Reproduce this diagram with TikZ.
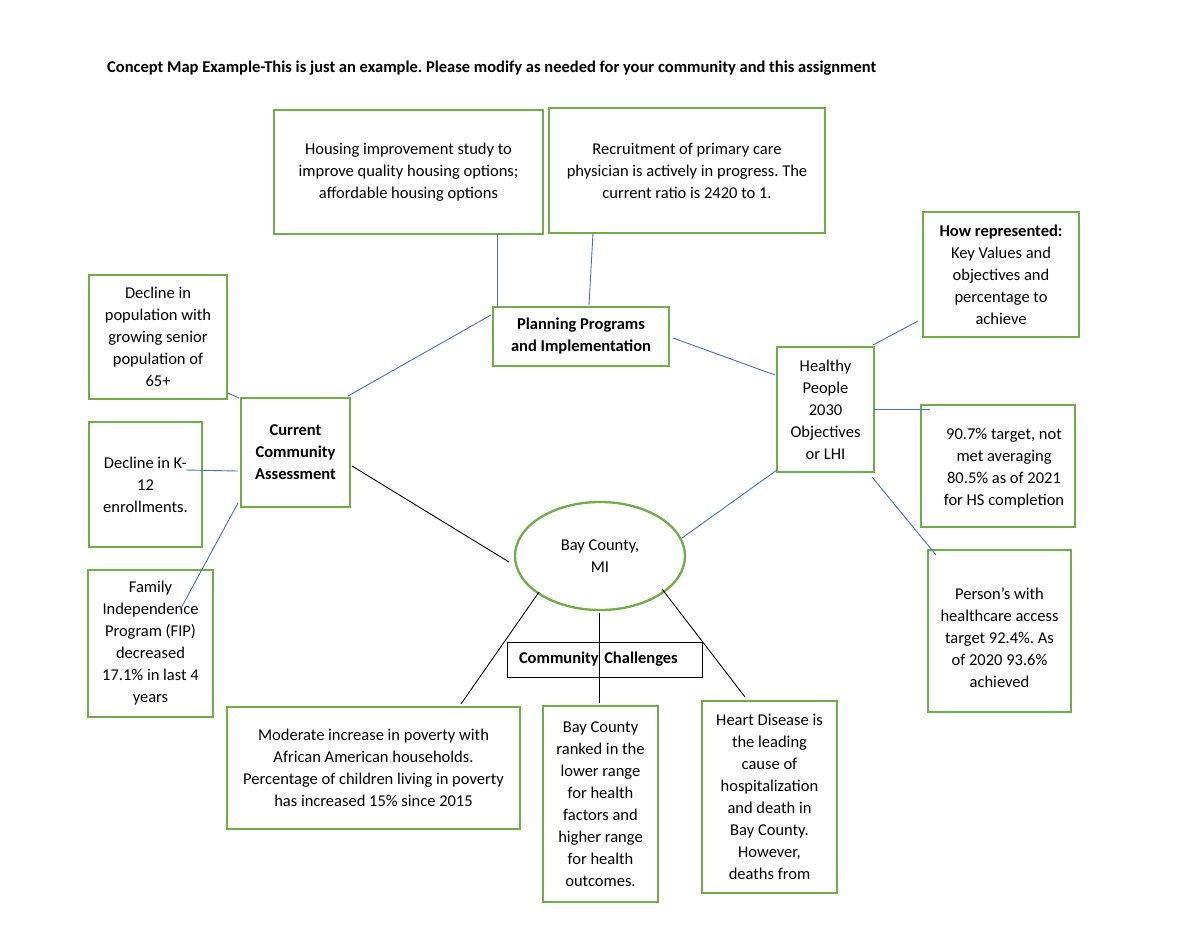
\documentclass[tikz,border=0pt]{standalone}
\usepackage{fontspec}
\setmainfont{Carlito}
\usetikzlibrary{calc,shapes.geometric}
\definecolor{boxgreen}{HTML}{70AD47}
\definecolor{linkblue}{HTML}{4472C4}
\frenchspacing
\begin{document}
\begin{tikzpicture}[x=1pt,y=-1pt,
  every node/.style={font=\fontsize{16.5}{22}\selectfont},
  gbox/.style={draw=boxgreen, line width=2.3pt, outer sep=0pt, fill=white, align=center, inner sep=0pt, font=\fontsize{16.5}{22}\selectfont},
  tbox/.style={align=center, inner sep=0pt, font=\fontsize{16.5}{22}\selectfont},
  link/.style={draw=linkblue, line width=0.9pt},
  blk/.style={draw=black, line width=0.9pt}]
\useasboundingbox (0,0) rectangle (1200,927);
\fill[white] (0,0) rectangle (1200,927);

\node[anchor=base west, inner sep=0pt, font=\fontsize{16.5}{22}\selectfont\bfseries] (title) at (107,72)
  {Concept Map Example-This is just an example. Please modify as needed for your community and this assignment};

% top boxes
\node[gbox, minimum width=269, minimum height=124] (h) at (408.5,172)
  {Housing improvement study to\\improve quality housing options;\\affordable housing options};
\node[gbox, minimum width=276, minimum height=125] (r) at (687,170.5)
  {Recruitment of primary care\\physician is actively in progress. The\\current ratio is 2420 to 1.};
\node[gbox, minimum width=176, minimum height=59, font=\fontsize{16.5}{22}\selectfont\bfseries] (p) at (581,336.5)
  {Planning Programs\\and Implementation};

% right cluster
\node[gbox, minimum width=97, minimum height=125] (hp) at (825.5,409.5)
  {Healthy\\People\\2030\\Objectives\\or LHI};
\node[gbox, minimum width=156, minimum height=125] (hr) at (1001,274.5)
  {\textbf{How represented:}\\Key Values and\\objectives and\\percentage to\\achieve};
\node[gbox, minimum width=154, minimum height=122] (t) at (998,466) {};
\node[tbox] (tt) at (1004,468)
  {90.7\% target, not\\met averaging\\80.5\% as of 2021\\for HS completion};
\node[gbox, minimum width=143, minimum height=162] (pa) at (999.5,631) {};
\node[tbox] (tpa) at (999.5,638)
  {Person’s with\\healthcare access\\target 92.4\%. As\\of 2020 93.6\%\\achieved};

% left cluster
\node[gbox, minimum width=138, minimum height=124] (dp) at (158,337)
  {Decline in\\population with\\growing senior\\population of\\65+};
\node[gbox, minimum width=109, minimum height=109, font=\fontsize{16.5}{22}\selectfont\bfseries] (cca) at (295.5,452.5)
  {Current\\Community\\Assessment};
\node[gbox, minimum width=113, minimum height=125] (dk) at (145.5,484.5)
  {Decline in K-\\12\\enrollments.};
\node[gbox, minimum width=125, minimum height=147] (fip) at (150.5,643.5)
  {Family\\Independence\\Program (FIP)\\decreased\\17.1\% in last 4\\years};

% centre
\node[ellipse, draw=boxgreen, line width=2.3pt, outer sep=0pt, fill=white, minimum width=170, minimum height=108, inner sep=0pt, align=center] (e) at (600,556)
  {Bay County,\\MI};
\node[draw=black, line width=0.9pt, outer sep=0pt, inner xsep=12pt, inner ysep=0pt, text width=171pt, minimum height=35, align=left, font=\fontsize{16.5}{22}\selectfont\bfseries] (cc) at (604.5,659.5)
  {Community Challenges};

% bottom boxes
\node[gbox, minimum width=293, minimum height=122] (mi) at (373.5,768)
  {Moderate increase in poverty with\\African American households.\\Percentage of children living in poverty\\has increased 15\% since 2015};
\node[gbox, minimum width=115, minimum height=196] (bc) at (600.5,804)
  {Bay County\\ranked in the\\lower range\\for health\\factors and\\higher range\\for health\\outcomes.};
\node[gbox, minimum width=135, minimum height=192] (hd) at (769.5,797)
  {Heart Disease is\\the leading\\cause of\\hospitalization\\and death in\\Bay County.\\However,\\deaths from};

% blue connectors
\draw[link] ($(h.south west)+(223,0)$) -- ($(p.north west)+(4,0)$);
\draw[link] ($(r.south west)+(44,0)$) -- ($(p.north west)+(96,-2)$);
\draw[link] ($(p.north west)+(-2,8)$) -- ($(cca.north east)+(-2,-2)$);
\draw[link] ($(p.east)+(4,1.5)$) -- ($(hp.west)+(-2,-34.5)$);
\draw[link] ($(hp.north east)+(-1,-2)$) -- ($(hr.south west)+(-5,-16)$);
\draw[link] ($(hp.east)+(0,-0.5)$) -- ($(t.north west)+(9,4)$);
\draw[link] ($(hp.south east)+(-2,5)$) -- ($(pa.north west)+(8,5)$);
\draw[link] ($(hp.south west)+(0,-2)$) -- ($(e.center)+(82,-18)$);
\draw[link] ($(dp.south east)+(1,-6)$) -- ($(cca.north west)+(-2,0)$);
\draw[link] ($(dk.east)+(-16,-14.5)$) -- ($(cca.west)+(-3,18.5)$);
\draw[link] ($(cca.south west)+(-3,-4)$) -- ($(fip.north west)+(92,40)$);

% black connectors
\draw[blk] ($(cca.east)+(2,13.5)$) -- ($(e.center)+(-91,6)$);
\draw[blk] ($(e.center)+(-61,36)$) -- ($(mi.north west)+(234,-3)$);
\draw[blk] ($(e.center)+(-1,57)$) -- ($(bc.north west)+(56,-3)$);
\draw[blk] ($(e.center)+(62,33)$) -- ($(hd.north west)+(43,-4)$);
\end{tikzpicture}
\end{document}
